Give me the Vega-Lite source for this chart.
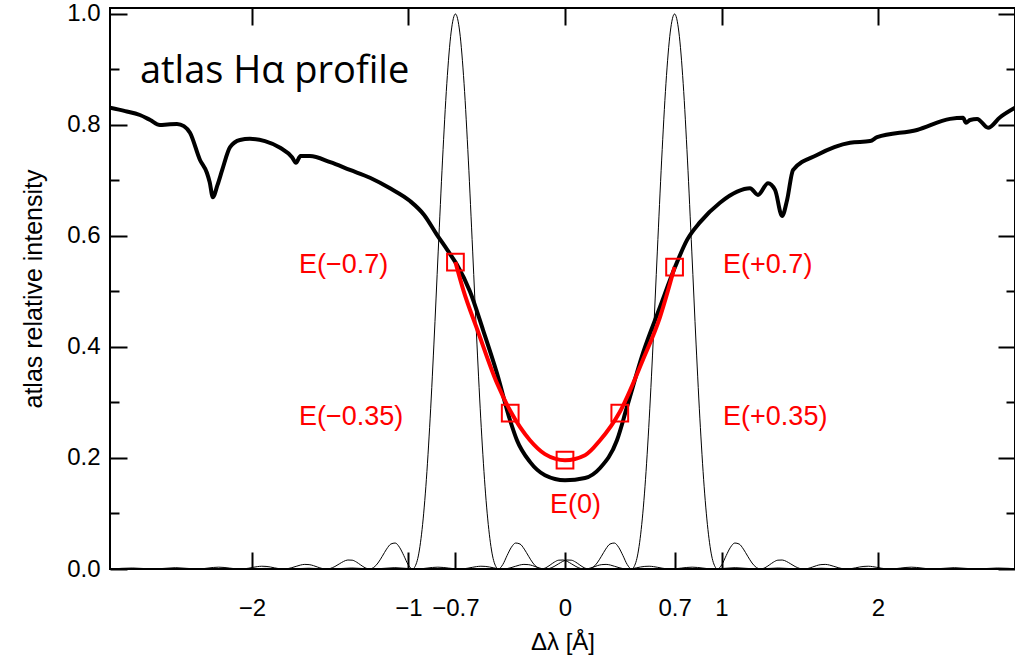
{
  "$schema": "https://vega.github.io/schema/vega-lite/v6.json",
  "width": 905,
  "height": 561,
  "autosize": "none",
  "padding": {"left": 110, "top": 8, "right": 0, "bottom": 93},
  "background": "white",
  "config": {
    "view": {"stroke": "black", "strokeWidth": 2},
    "axis": {
      "domain": false, "grid": false, "tickColor": "black", "tickWidth": 2,
      "labelFont": "Liberation Sans", "labelFontSize": 24, "labelColor": "black",
      "titleFont": "Liberation Sans", "titleFontWeight": "normal", "titleColor": "black",
      "labelOverlap": false, "labelFlush": false, "labelBound": false
    }
  },
  "datasets": {
    "filt": [
      {"f":"L","x":-2.9,"t":0},{"f":"L","x":-2.7625,"t":0.0018},{"f":"L","x":-2.625,"t":0},{"f":"L","x":-2.4875,"t":0.0024},{"f":"L","x":-2.35,"t":0},{"f":"L","x":-2.2125,"t":0.0033},{"f":"L","x":-2.075,"t":0},{"f":"L","x":-2.0475,"t":0.0004},{"f":"L","x":-2.02,"t":0.0015},{"f":"L","x":-1.9925,"t":0.003},{"f":"L","x":-1.965,"t":0.0043},{"f":"L","x":-1.9375,"t":0.005},{"f":"L","x":-1.91,"t":0.0047},{"f":"L","x":-1.8825,"t":0.0036},{"f":"L","x":-1.855,"t":0.002},{"f":"L","x":-1.8275,"t":0.0006},{"f":"L","x":-1.8,"t":0},{"f":"L","x":-1.7725,"t":0.0006},{"f":"L","x":-1.745,"t":0.0024},{"f":"L","x":-1.7175,"t":0.0048},{"f":"L","x":-1.69,"t":0.0071},{"f":"L","x":-1.6625,"t":0.0083},{"f":"L","x":-1.635,"t":0.0079},{"f":"L","x":-1.6075,"t":0.0061},{"f":"L","x":-1.58,"t":0.0034},{"f":"L","x":-1.5525,"t":0.001},{"f":"L","x":-1.525,"t":0},{"f":"L","x":-1.4975,"t":0.0012},{"f":"L","x":-1.47,"t":0.0045},{"f":"L","x":-1.4425,"t":0.0091},{"f":"L","x":-1.415,"t":0.0136},{"f":"L","x":-1.3875,"t":0.0162},{"f":"L","x":-1.36,"t":0.0159},{"f":"L","x":-1.3325,"t":0.0125},{"f":"L","x":-1.305,"t":0.0072},{"f":"L","x":-1.2775,"t":0.0022},{"f":"L","x":-1.25,"t":0},{"f":"L","x":-1.2225,"t":0.0027},{"f":"L","x":-1.195,"t":0.0108},{"f":"L","x":-1.1675,"t":0.0229},{"f":"L","x":-1.14,"t":0.0358},{"f":"L","x":-1.1125,"t":0.045},{"f":"L","x":-1.085,"t":0.0468},{"f":"L","x":-1.0575,"t":0.0392},{"f":"L","x":-1.03,"t":0.0243},{"f":"L","x":-1.0025,"t":0.008},{"f":"L","x":-0.975,"t":0},{"f":"L","x":-0.9475,"t":0.0119},{"f":"L","x":-0.92,"t":0.0547},{"f":"L","x":-0.8925,"t":0.1353},{"f":"L","x":-0.865,"t":0.2546},{"f":"L","x":-0.8375,"t":0.4053},{"f":"L","x":-0.81,"t":0.5728},{"f":"L","x":-0.7825,"t":0.7368},{"f":"L","x":-0.755,"t":0.8751},{"f":"L","x":-0.7275,"t":0.9675},{"f":"L","x":-0.7,"t":1},{"f":"L","x":-0.6725,"t":0.9675},{"f":"L","x":-0.645,"t":0.8751},{"f":"L","x":-0.6175,"t":0.7368},{"f":"L","x":-0.59,"t":0.5728},{"f":"L","x":-0.5625,"t":0.4053},{"f":"L","x":-0.535,"t":0.2546},{"f":"L","x":-0.5075,"t":0.1353},{"f":"L","x":-0.48,"t":0.0547},{"f":"L","x":-0.4525,"t":0.0119},{"f":"L","x":-0.425,"t":0},{"f":"L","x":-0.3975,"t":0.008},{"f":"L","x":-0.37,"t":0.0243},{"f":"L","x":-0.3425,"t":0.0392},{"f":"L","x":-0.315,"t":0.0468},{"f":"L","x":-0.2875,"t":0.045},{"f":"L","x":-0.26,"t":0.0358},{"f":"L","x":-0.2325,"t":0.0229},{"f":"L","x":-0.205,"t":0.0108},{"f":"L","x":-0.1775,"t":0.0027},{"f":"L","x":-0.15,"t":0},{"f":"L","x":-0.1225,"t":0.0022},{"f":"L","x":-0.095,"t":0.0072},{"f":"L","x":-0.0675,"t":0.0125},{"f":"L","x":-0.04,"t":0.0159},{"f":"L","x":-0.0125,"t":0.0162},{"f":"L","x":0.015,"t":0.0136},{"f":"L","x":0.0425,"t":0.0091},{"f":"L","x":0.07,"t":0.0045},{"f":"L","x":0.0975,"t":0.0012},{"f":"L","x":0.125,"t":0},{"f":"L","x":0.1525,"t":0.001},{"f":"L","x":0.18,"t":0.0034},{"f":"L","x":0.2075,"t":0.0061},{"f":"L","x":0.235,"t":0.0079},{"f":"L","x":0.2625,"t":0.0083},{"f":"L","x":0.29,"t":0.0071},{"f":"L","x":0.3175,"t":0.0048},{"f":"L","x":0.345,"t":0.0024},{"f":"L","x":0.3725,"t":0.0006},{"f":"L","x":0.4,"t":0},{"f":"L","x":0.4275,"t":0.0006},{"f":"L","x":0.455,"t":0.002},{"f":"L","x":0.4825,"t":0.0036},{"f":"L","x":0.51,"t":0.0047},{"f":"L","x":0.5375,"t":0.005},{"f":"L","x":0.565,"t":0.0043},{"f":"L","x":0.5925,"t":0.003},{"f":"L","x":0.62,"t":0.0015},{"f":"L","x":0.6475,"t":0.0004},{"f":"L","x":0.675,"t":0},{"f":"L","x":0.8125,"t":0.0033},{"f":"L","x":0.95,"t":0},{"f":"L","x":1.0875,"t":0.0024},{"f":"L","x":1.225,"t":0},{"f":"L","x":1.3625,"t":0.0018},{"f":"L","x":1.5,"t":0},{"f":"L","x":1.6375,"t":0.0014},{"f":"L","x":1.775,"t":0},{"f":"L","x":1.9125,"t":0.0011},{"f":"L","x":2.05,"t":0},{"f":"L","x":2.1875,"t":0.0009},{"f":"L","x":2.325,"t":0},{"f":"L","x":2.4625,"t":0.0008},{"f":"L","x":2.6,"t":0},{"f":"L","x":2.7375,"t":0.0007},{"f":"L","x":2.875,"t":0},
      {"f":"R","x":2.9,"t":0},{"f":"R","x":2.7625,"t":0.0018},{"f":"R","x":2.625,"t":0},{"f":"R","x":2.4875,"t":0.0024},{"f":"R","x":2.35,"t":0},{"f":"R","x":2.2125,"t":0.0033},{"f":"R","x":2.075,"t":0},{"f":"R","x":2.0475,"t":0.0004},{"f":"R","x":2.02,"t":0.0015},{"f":"R","x":1.9925,"t":0.003},{"f":"R","x":1.965,"t":0.0043},{"f":"R","x":1.9375,"t":0.005},{"f":"R","x":1.91,"t":0.0047},{"f":"R","x":1.8825,"t":0.0036},{"f":"R","x":1.855,"t":0.002},{"f":"R","x":1.8275,"t":0.0006},{"f":"R","x":1.8,"t":0},{"f":"R","x":1.7725,"t":0.0006},{"f":"R","x":1.745,"t":0.0024},{"f":"R","x":1.7175,"t":0.0048},{"f":"R","x":1.69,"t":0.0071},{"f":"R","x":1.6625,"t":0.0083},{"f":"R","x":1.635,"t":0.0079},{"f":"R","x":1.6075,"t":0.0061},{"f":"R","x":1.58,"t":0.0034},{"f":"R","x":1.5525,"t":0.001},{"f":"R","x":1.525,"t":0},{"f":"R","x":1.4975,"t":0.0012},{"f":"R","x":1.47,"t":0.0045},{"f":"R","x":1.4425,"t":0.0091},{"f":"R","x":1.415,"t":0.0136},{"f":"R","x":1.3875,"t":0.0162},{"f":"R","x":1.36,"t":0.0159},{"f":"R","x":1.3325,"t":0.0125},{"f":"R","x":1.305,"t":0.0072},{"f":"R","x":1.2775,"t":0.0022},{"f":"R","x":1.25,"t":0},{"f":"R","x":1.2225,"t":0.0027},{"f":"R","x":1.195,"t":0.0108},{"f":"R","x":1.1675,"t":0.0229},{"f":"R","x":1.14,"t":0.0358},{"f":"R","x":1.1125,"t":0.045},{"f":"R","x":1.085,"t":0.0468},{"f":"R","x":1.0575,"t":0.0392},{"f":"R","x":1.03,"t":0.0243},{"f":"R","x":1.0025,"t":0.008},{"f":"R","x":0.975,"t":0},{"f":"R","x":0.9475,"t":0.0119},{"f":"R","x":0.92,"t":0.0547},{"f":"R","x":0.8925,"t":0.1353},{"f":"R","x":0.865,"t":0.2546},{"f":"R","x":0.8375,"t":0.4053},{"f":"R","x":0.81,"t":0.5728},{"f":"R","x":0.7825,"t":0.7368},{"f":"R","x":0.755,"t":0.8751},{"f":"R","x":0.7275,"t":0.9675},{"f":"R","x":0.7,"t":1},{"f":"R","x":0.6725,"t":0.9675},{"f":"R","x":0.645,"t":0.8751},{"f":"R","x":0.6175,"t":0.7368},{"f":"R","x":0.59,"t":0.5728},{"f":"R","x":0.5625,"t":0.4053},{"f":"R","x":0.535,"t":0.2546},{"f":"R","x":0.5075,"t":0.1353},{"f":"R","x":0.48,"t":0.0547},{"f":"R","x":0.4525,"t":0.0119},{"f":"R","x":0.425,"t":0},{"f":"R","x":0.3975,"t":0.008},{"f":"R","x":0.37,"t":0.0243},{"f":"R","x":0.3425,"t":0.0392},{"f":"R","x":0.315,"t":0.0468},{"f":"R","x":0.2875,"t":0.045},{"f":"R","x":0.26,"t":0.0358},{"f":"R","x":0.2325,"t":0.0229},{"f":"R","x":0.205,"t":0.0108},{"f":"R","x":0.1775,"t":0.0027},{"f":"R","x":0.15,"t":0},{"f":"R","x":0.1225,"t":0.0022},{"f":"R","x":0.095,"t":0.0072},{"f":"R","x":0.0675,"t":0.0125},{"f":"R","x":0.04,"t":0.0159},{"f":"R","x":0.0125,"t":0.0162},{"f":"R","x":-0.015,"t":0.0136},{"f":"R","x":-0.0425,"t":0.0091},{"f":"R","x":-0.07,"t":0.0045},{"f":"R","x":-0.0975,"t":0.0012},{"f":"R","x":-0.125,"t":0},{"f":"R","x":-0.1525,"t":0.001},{"f":"R","x":-0.18,"t":0.0034},{"f":"R","x":-0.2075,"t":0.0061},{"f":"R","x":-0.235,"t":0.0079},{"f":"R","x":-0.2625,"t":0.0083},{"f":"R","x":-0.29,"t":0.0071},{"f":"R","x":-0.3175,"t":0.0048},{"f":"R","x":-0.345,"t":0.0024},{"f":"R","x":-0.3725,"t":0.0006},{"f":"R","x":-0.4,"t":0},{"f":"R","x":-0.4275,"t":0.0006},{"f":"R","x":-0.455,"t":0.002},{"f":"R","x":-0.4825,"t":0.0036},{"f":"R","x":-0.51,"t":0.0047},{"f":"R","x":-0.5375,"t":0.005},{"f":"R","x":-0.565,"t":0.0043},{"f":"R","x":-0.5925,"t":0.003},{"f":"R","x":-0.62,"t":0.0015},{"f":"R","x":-0.6475,"t":0.0004},{"f":"R","x":-0.675,"t":0},{"f":"R","x":-0.8125,"t":0.0033},{"f":"R","x":-0.95,"t":0},{"f":"R","x":-1.0875,"t":0.0024},{"f":"R","x":-1.225,"t":0},{"f":"R","x":-1.3625,"t":0.0018},{"f":"R","x":-1.5,"t":0},{"f":"R","x":-1.6375,"t":0.0014},{"f":"R","x":-1.775,"t":0},{"f":"R","x":-1.9125,"t":0.0011},{"f":"R","x":-2.05,"t":0},{"f":"R","x":-2.1875,"t":0.0009},{"f":"R","x":-2.325,"t":0},{"f":"R","x":-2.4625,"t":0.0008},{"f":"R","x":-2.6,"t":0},{"f":"R","x":-2.7375,"t":0.0007},{"f":"R","x":-2.875,"t":0}
    ],
    "atlas": [
      {"x":-2.907,"y":0.831},{"x":-2.81,"y":0.825},{"x":-2.716,"y":0.818},{"x":-2.65,"y":0.809},{"x":-2.588,"y":0.8},{"x":-2.54,"y":0.801},{"x":-2.479,"y":0.802},{"x":-2.435,"y":0.798},{"x":-2.396,"y":0.786},{"x":-2.332,"y":0.737},{"x":-2.288,"y":0.714},{"x":-2.27,"y":0.697},{"x":-2.25,"y":0.67},{"x":-2.22,"y":0.692},{"x":-2.19,"y":0.719},{"x":-2.14,"y":0.76},{"x":-2.077,"y":0.773},{"x":-2.013,"y":0.775},{"x":-1.917,"y":0.771},{"x":-1.82,"y":0.759},{"x":-1.744,"y":0.742},{"x":-1.719,"y":0.732},{"x":-1.69,"y":0.744},{"x":-1.63,"y":0.744},{"x":-1.5,"y":0.733},{"x":-1.374,"y":0.719},{"x":-1.246,"y":0.705},{"x":-1.118,"y":0.686},{"x":-0.99,"y":0.663},{"x":-0.9,"y":0.638},{"x":-0.82,"y":0.603},{"x":-0.75,"y":0.574},{"x":-0.69,"y":0.548},{"x":-0.607,"y":0.5},{"x":-0.524,"y":0.431},{"x":-0.435,"y":0.353},{"x":-0.351,"y":0.268},{"x":-0.307,"y":0.232},{"x":-0.224,"y":0.193},{"x":-0.128,"y":0.169},{"x":0,"y":0.16},{"x":0.128,"y":0.164},{"x":0.224,"y":0.182},{"x":0.332,"y":0.232},{"x":0.396,"y":0.292},{"x":0.498,"y":0.389},{"x":0.607,"y":0.472},{"x":0.703,"y":0.544},{"x":0.78,"y":0.593},{"x":0.863,"y":0.625},{"x":0.99,"y":0.66},{"x":1.1,"y":0.68},{"x":1.182,"y":0.686},{"x":1.233,"y":0.674},{"x":1.297,"y":0.695},{"x":1.342,"y":0.683},{"x":1.387,"y":0.636},{"x":1.419,"y":0.665},{"x":1.457,"y":0.719},{"x":1.61,"y":0.746},{"x":1.821,"y":0.768},{"x":1.949,"y":0.771},{"x":1.994,"y":0.778},{"x":2.249,"y":0.791},{"x":2.46,"y":0.811},{"x":2.543,"y":0.813},{"x":2.562,"y":0.804},{"x":2.588,"y":0.809},{"x":2.633,"y":0.811},{"x":2.703,"y":0.795},{"x":2.78,"y":0.814},{"x":2.875,"y":0.831}
    ],
    "fit": [
      {"x":-0.7,"y":0.553},{"x":-0.65,"y":0.503},{"x":-0.56,"y":0.431},{"x":-0.435,"y":0.335},{"x":-0.35,"y":0.285},{"x":-0.224,"y":0.232},{"x":-0.128,"y":0.207},{"x":0,"y":0.196},{"x":0.128,"y":0.205},{"x":0.224,"y":0.232},{"x":0.35,"y":0.283},{"x":0.498,"y":0.377},{"x":0.607,"y":0.454},{"x":0.7,"y":0.544}
    ],
    "pts": [
      {"x":-0.7,"y":0.553},{"x":-0.35,"y":0.281},{"x":0,"y":0.196},{"x":0.35,"y":0.281},{"x":0.7,"y":0.544}
    ],
    "labs": [
      {"x":-1.7,"y":0.533,"s":"E(−0.7)"},{"x":-1.7,"y":0.259,"s":"E(−0.35)"},{"x":1.01,"y":0.533,"s":"E(+0.7)"},{"x":1.01,"y":0.259,"s":"E(+0.35)"},{"x":-0.096,"y":0.101,"s":"E(0)"}
    ],
    "ttl": [
      {"x":-2.716,"y":0.876,"s":"atlas Hα profile"}
    ]
  },
  "layer": [
    {
      "data": {"name": "filt"},
      "mark": {"type": "line", "color": "black", "strokeWidth": 1, "clip": true, "interpolate": "monotone"},
      "encoding": {
        "x": {"field": "x", "type": "quantitative", "scale": {"domain": [-2.907, 2.875], "nice": false, "zero": false},
              "axis": {"orient": "bottom", "values": [-2, -1, -0.7, 0, 0.7, 1, 2], "tickSize": -17, "labelPadding": 44,
                       "labelExpr": "(datum.value < 0 ? '−' : '') + abs(datum.value)",
                       "title": "Δλ [Å]", "titleFontSize": 24, "titlePadding": 10}},
        "y": {"field": "t", "type": "quantitative", "scale": {"domain": [0, 1.0108], "nice": false, "zero": false},
              "axis": {"orient": "left", "values": [0, 0.2, 0.4, 0.6, 0.8, 1.0], "format": ".1f", "tickSize": -17, "labelPadding": 27,
                       "title": "atlas relative intensity", "titleFontSize": 25, "titlePadding": 20}},
        "detail": {"field": "f"}
      }
    },
    {
      "data": {"name": "atlas"},
      "mark": {"type": "line", "color": "black", "strokeWidth": 4, "clip": true, "interpolate": "monotone"},
      "encoding": {
        "x": {"field": "x", "type": "quantitative", "axis": {"orient": "top", "values": [-2, -1, 0, 1, 2], "tickSize": -17, "labels": false, "title": null}},
        "y": {"field": "y", "type": "quantitative", "axis": {"orient": "right", "values": [0, 0.2, 0.4, 0.6, 0.8, 1.0], "tickSize": -17, "labels": false, "title": null}}
      }
    },
    {
      "data": {"name": "fit"},
      "mark": {"type": "line", "color": "#ff0000", "strokeWidth": 4, "interpolate": "monotone"},
      "encoding": {
        "x": {"field": "x", "type": "quantitative", "axis": null},
        "y": {"field": "y", "type": "quantitative", "axis": {"orient": "left", "values": [0.1, 0.3, 0.5, 0.7, 0.9], "tickSize": -9, "labels": false, "title": null}}
      }
    },
    {
      "data": {"name": "pts"},
      "mark": {"type": "point", "shape": "square", "size": 280, "filled": false, "stroke": "#ff0000", "strokeWidth": 2, "opacity": 1},
      "encoding": {
        "x": {"field": "x", "type": "quantitative", "axis": null},
        "y": {"field": "y", "type": "quantitative", "axis": {"orient": "right", "values": [0.1, 0.3, 0.5, 0.7, 0.9], "tickSize": -9, "labels": false, "title": null}}
      }
    },
    {
      "data": {"name": "labs"},
      "mark": {"type": "text", "align": "left", "baseline": "alphabetic", "font": "Liberation Sans", "fontSize": 27, "color": "#ff0000"},
      "encoding": {
        "x": {"field": "x", "type": "quantitative", "axis": null},
        "y": {"field": "y", "type": "quantitative", "axis": null},
        "text": {"field": "s"}
      }
    },
    {
      "data": {"name": "ttl"},
      "mark": {"type": "text", "align": "left", "baseline": "alphabetic", "font": "Open Sans", "fontSize": 38, "color": "black"},
      "encoding": {
        "x": {"field": "x", "type": "quantitative", "axis": null},
        "y": {"field": "y", "type": "quantitative", "axis": null},
        "text": {"field": "s"}
      }
    }
  ],
  "resolve": {"axis": {"x": "independent", "y": "independent"}}
}
